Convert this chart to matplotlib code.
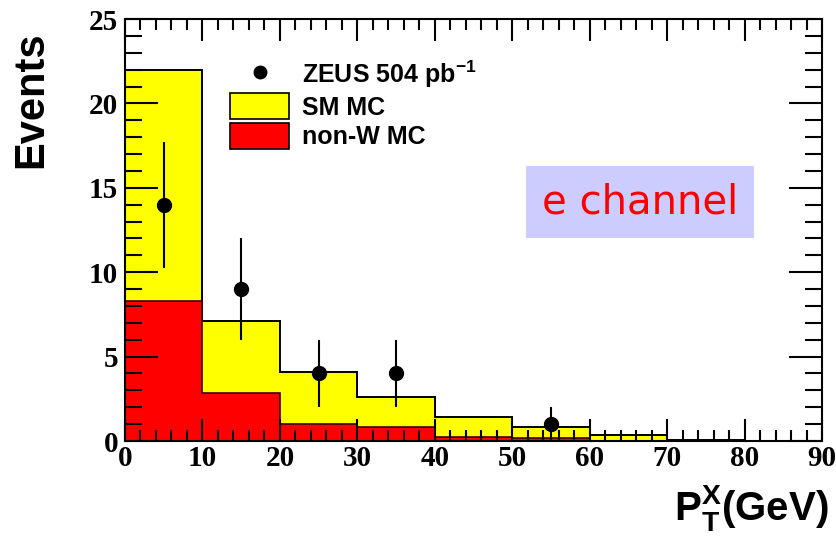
import matplotlib
matplotlib.use("Agg")
import matplotlib.pyplot as plt
from matplotlib.patches import Patch
from matplotlib.lines import Line2D
from matplotlib.ticker import MultipleLocator

# ---- data ----
bin_edges = [0, 10, 20, 30, 40, 50, 60, 70, 80]
sm_mc = [22.0, 7.1, 4.1, 2.6, 1.4, 0.85, 0.35, 0.05]
nonw_mc = [8.3, 2.85, 1.0, 0.8, 0.25, 0.15, 0.0, 0.0]
data_x = [5, 15, 25, 35, 55]
data_y = [14, 9, 4, 4, 1]
data_err = [3.74, 3.0, 2.0, 2.0, 1.0]
x_ticks = [0, 10, 20, 30, 40, 50, 60, 70, 80, 90]
y_ticks = [0, 5, 10, 15, 20, 25]

plt.rcParams['mathtext.fontset'] = 'custom'
plt.rcParams['mathtext.rm'] = 'Liberation Sans:bold'
plt.rcParams['mathtext.bf'] = 'Liberation Sans:bold'
plt.rcParams['mathtext.it'] = 'Liberation Sans:bold'

fig = plt.figure(figsize=(8.36, 5.36), dpi=100)
ax = fig.add_axes([125/836, 1-441/536, (822-125)/836, (441-19)/536])

ax.stairs(sm_mc, bin_edges, fill=True, color='#ffff00', zorder=1)
ax.stairs(sm_mc, bin_edges, fill=False, color='black', lw=1.4, zorder=1.1)
ax.stairs(nonw_mc, bin_edges, fill=True, color='#ff0000', zorder=1.2)
ax.stairs(nonw_mc, bin_edges, fill=False, color='#400000', lw=1.2, zorder=1.3)
ax.errorbar(data_x, data_y, yerr=data_err, fmt='o', color='black', ms=10,
            elinewidth=1.5, capsize=0, zorder=3)

ax.set_xlim(0, 90)
ax.set_ylim(0, 25)
ax.set_xticks(x_ticks)
ax.set_yticks(y_ticks)
ax.xaxis.set_minor_locator(MultipleLocator(2))
ax.yaxis.set_minor_locator(MultipleLocator(1))
ax.tick_params(axis='both', which='both', direction='in', top=True, right=True, width=1.5)
ax.tick_params(axis='x', which='major', length=16)
ax.tick_params(axis='x', which='minor', length=8)
ax.tick_params(axis='y', which='major', length=24)
ax.tick_params(axis='y', which='minor', length=12)
for lab in ax.get_xticklabels() + ax.get_yticklabels():
    lab.set_fontfamily('Liberation Serif')
    lab.set_fontweight('bold')
    lab.set_fontsize(21)
ax.tick_params(axis='x', pad=3)
ax.tick_params(axis='y', pad=5)
for s in ax.spines.values():
    s.set_linewidth(1.5)

fig.text(31/836, 1-100/536, 'Events', rotation=90, ha='center', va='center',
         fontfamily='Liberation Sans', fontweight='bold', fontsize=30)
fig.text(829/836, 1-508/536, r'P$_\mathrm{T}^\mathrm{X}$(GeV)', ha='right', va='center',
         fontfamily='Liberation Sans', fontweight='bold', fontsize=29)

handles = [Line2D([], [], marker='o', color='black', ls='none', ms=9),
           Patch(facecolor='#ffff00', edgecolor='black', lw=1.2),
           Patch(facecolor='#ff0000', edgecolor='black', lw=1.2)]
labels = ['ZEUS 504 pb$^{-1}$', 'SM MC', 'non-W MC']
ax.legend(handles, labels, loc='upper left', bbox_to_anchor=(0.137, 0.93),
          frameon=False, prop={'family': 'Liberation Sans', 'weight': 'bold', 'size': 18},
          handlelength=2.35, handleheight=1.25, labelspacing=0.12, handletextpad=0.5,
          borderaxespad=0)

fig.text(640/836, 1-202/536, 'e channel', ha='center', va='center', color='#ff0000',
         fontfamily='DejaVu Sans', fontsize=29,
         bbox=dict(boxstyle='square,pad=0.4', facecolor='#ccccff', edgecolor='none'))

fig.savefig('out.png', dpi=100)
